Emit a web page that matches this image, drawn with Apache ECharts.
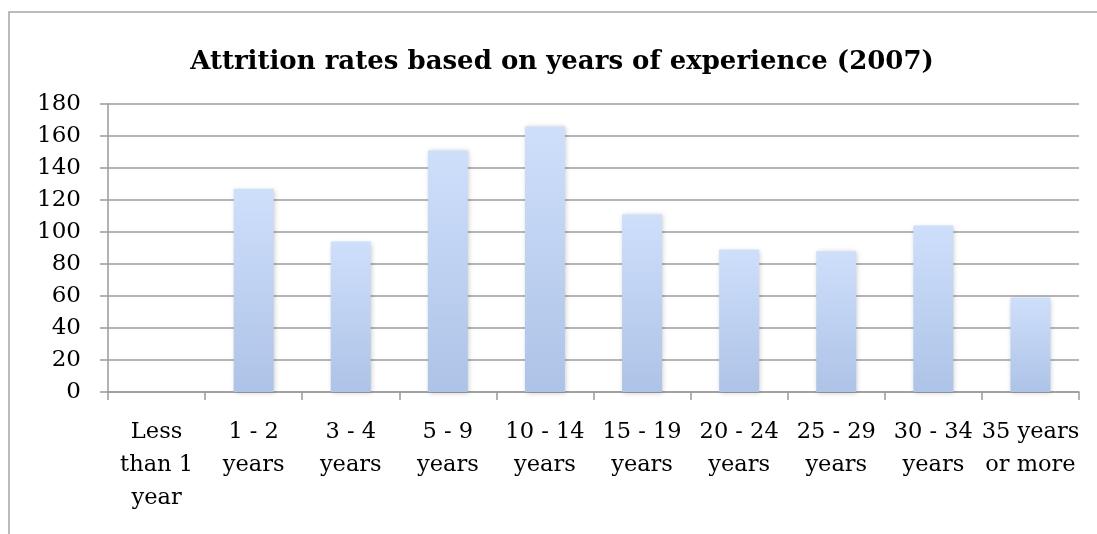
<!DOCTYPE html>
<html>
<head>
<meta charset="utf-8">
<title>Attrition rates based on years of experience (2007)</title>
<script src="https://cdn.jsdelivr.net/npm/echarts@6/dist/echarts.min.js"></script>
<style>
  html, body { margin: 0; padding: 0; background: #ffffff; }
  #chart { width: 1097px; height: 534px; }
</style>
</head>
<body>
<div id="chart"></div>
<script>
// Experience brackets along the x axis
const categories = [
  'Less\nthan 1\nyear', '1 - 2\nyears', '3 - 4\nyears', '5 - 9\nyears', '10 - 14\nyears',
  '15 - 19\nyears', '20 - 24\nyears', '25 - 29\nyears', '30 - 34\nyears', '35 years\nor more'
];
// Number of teachers leaving in each bracket
const attrition = [0, 127, 94, 151, 166, 111, 89, 88, 104, 59];
// Value axis range
const yMin = 0;
const yMax = 180;
const yStep = 20;

const serif = '"DejaVu Serif", "Liberation Serif", serif';
const chart = echarts.init(document.getElementById('chart'), null, { renderer: 'canvas' });

chart.setOption({
  backgroundColor: '#ffffff',
  animation: false,
  title: {
    text: 'Attrition rates based on years of experience (2007)',
    left: 557,
    top: 44,
    textAlign: 'center',
    textStyle: { fontFamily: serif, fontWeight: 'bold', fontSize: 26, color: '#000000' }
  },
  graphic: [{
    type: 'rect',
    shape: { x: 9, y: 12, width: 1400, height: 800 },
    style: { fill: 'none', stroke: '#a6a6a6', lineWidth: 1.5 },
    silent: true
  }],
  grid: { left: 108, right: 18, top: 104, bottom: 142, containLabel: false },
  xAxis: {
    type: 'category',
    data: categories,
    boundaryGap: true,
    axisLine: { lineStyle: { color: '#9a9a9a', width: 1.5 } },
    axisTick: { show: true, length: 8, alignWithLabel: false, lineStyle: { color: '#9a9a9a', width: 1.5 } },
    axisLabel: {
      interval: 0,
      margin: 24,
      fontFamily: serif,
      fontSize: 22.5,
      lineHeight: 33,
      color: '#000000',
      align: 'center'
    }
  },
  yAxis: {
    type: 'value',
    min: yMin,
    max: yMax,
    interval: yStep,
    axisLine: { show: true, lineStyle: { color: '#9a9a9a', width: 1.5 } },
    axisTick: { show: true, length: 8, lineStyle: { color: '#9a9a9a', width: 1.5 } },
    axisLabel: { margin: 27, fontFamily: serif, fontSize: 23, color: '#000000' },
    splitLine: { show: true, lineStyle: { color: '#9c9c9c', width: 1.5 } }
  },
  series: [{
    type: 'bar',
    data: attrition,
    barWidth: 40,
    itemStyle: {
      color: new echarts.graphic.LinearGradient(0, 0, 0, 1, [
        { offset: 0, color: '#cedffb' },
        { offset: 1, color: '#adc3e7' }
      ]),
      shadowColor: 'rgba(0,0,0,0.22)',
      shadowBlur: 5,
      shadowOffsetX: 1,
      shadowOffsetY: 1
    }
  }]
});
</script>
</body>
</html>
